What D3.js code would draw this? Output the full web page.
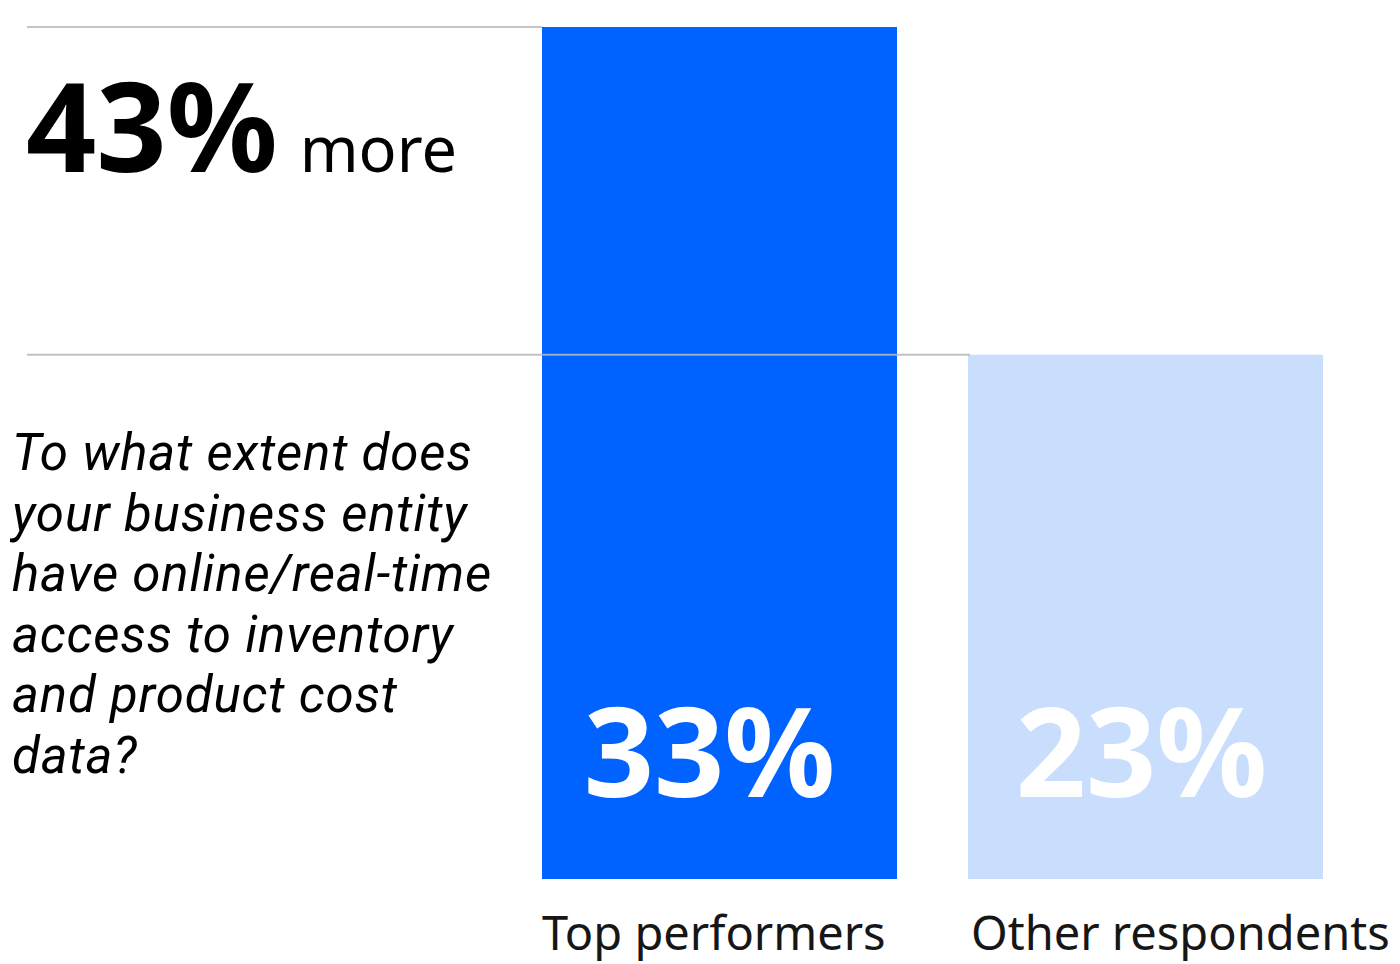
<!DOCTYPE html>
<html><head><meta charset="utf-8">
<script src="https://cdn.jsdelivr.net/npm/d3@7"></script>
<style>html,body{margin:0;padding:0;background:#fff;}</style>
</head><body>
<script>
const categories = ["Top performers", "Other respondents"];
const values = [33, 23];
const valueLabels = ["33%", "23%"];
const barColors = ["#0062ff", "#c9ddfc"];
const headline = "43%";
const headlineSuffix = "more";
const questionLines = ["To what extent does", "your business entity", "have online/real-time", "access to inventory", "and product cost", "data?"];

const W = 1400, H = 964;
const svg = d3.select("body").append("svg").attr("width", W).attr("height", H);
const font = "'Noto Sans', 'Open Sans', sans-serif";
const qFont = "Roboto, 'Noto Sans', sans-serif";

const x = d3.scaleBand().domain(categories).range([542, 1323]).paddingInner(71/426).paddingOuter(0);
const y = d3.scaleLinear().domain([7, 33]).range([879, 27]);
const bw = x.bandwidth();

// bars
svg.selectAll("rect.bar").data(categories).join("rect")
  .attr("x", d => x(d)).attr("width", bw)
  .attr("y", (d,i) => y(values[i])).attr("height", (d,i) => y.range()[0] - y(values[i]))
  .attr("fill", (d,i) => barColors[i]);

// reference lines
svg.append("line").attr("x1", 27).attr("x2", x(categories[0])).attr("y1", y(values[0])).attr("y2", y(values[0]))
  .attr("stroke", "#c4c4c6").attr("stroke-width", 2);
svg.append("line").attr("x1", 27).attr("x2", x(categories[1]) + 2).attr("y1", y(values[1])).attr("y2", y(values[1]))
  .attr("stroke", "#b8b8bc").attr("stroke-opacity", 0.85).attr("stroke-width", 2);

// value labels
svg.selectAll("text.val").data(categories).join("text")
  .attr("x", (d,i) => x(d) + bw/2 - (i === 0 ? 10 : 4)).attr("y", 797)
  .attr("text-anchor", "middle").attr("fill", "#fff")
  .attr("font-family", font).attr("font-weight", 700).attr("font-size", 123)
  .text((d,i) => valueLabels[i]);

// category labels
svg.selectAll("text.cat").data(categories).join("text")
  .attr("x", (d,i) => x(d) + (i === 0 ? 0 : 3)).attr("y", 950)
  .attr("fill", "#161616").attr("font-family", font).attr("font-size", 47)
  .text(d => d);

// headline
const hl = svg.append("text").attr("x", 26).attr("y", 172).attr("fill", "#000").attr("font-family", font);
hl.append("tspan").attr("font-weight", 700).attr("font-size", 123).text(headline);
hl.append("tspan").attr("dx", 22).attr("font-size", 63).attr("font-weight", 400).text(headlineSuffix);

// question text
const qs = svg.selectAll("text.q").data(questionLines).join("text")
  .attr("class", "q")
  .attr("x", 12).attr("y", (d,i) => 470 + i * 60.6)
  .attr("fill", "#000").attr("font-family", qFont).attr("font-style", "italic").attr("font-size", 51)
  .text(d => d);
// match the widest line to the reference width with a little letter spacing
const widest = d3.max(qs.nodes(), n => n.getComputedTextLength());
const maxChars = d3.max(questionLines, s => s.length);
const ls = Math.max(0, (480 - widest) / maxChars);
qs.attr("letter-spacing", ls.toFixed(2));
</script>
</body></html>
